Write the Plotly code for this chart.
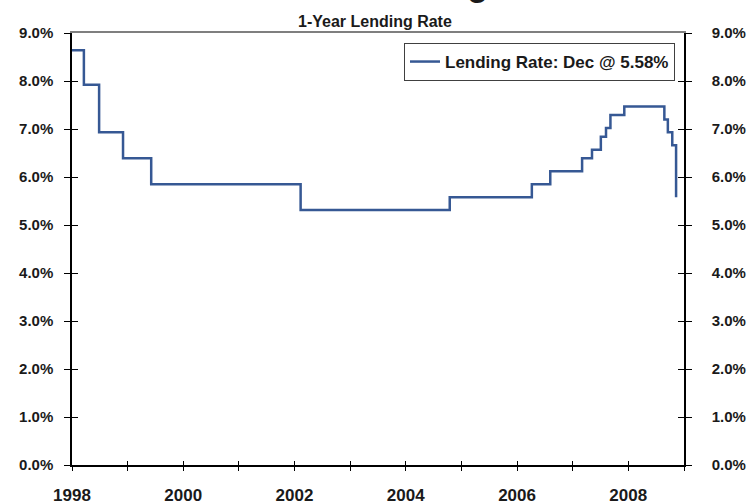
import plotly.graph_objects as go

# Step dates and 1-year lending rate (%)
change_dates = ["1998-01-01", "1998-03-20", "1998-06-28", "1998-12-02", "1999-06-05",
                "2002-02-10", "2004-10-16", "2006-04-08", "2006-08-07", "2007-03-04",
                "2007-05-08", "2007-07-05", "2007-08-08", "2007-09-06", "2007-12-06",
                "2008-08-25", "2008-09-17", "2008-10-16", "2008-11-10"]
rates = [8.64, 7.92, 6.93, 6.39, 5.85,
         5.31, 5.58, 5.85, 6.12, 6.39,
         6.57, 6.84, 7.02, 7.29, 7.47,
         7.20, 6.93, 6.66, 5.58]

year_ticks = [f"{y}-01-01" for y in range(1998, 2010)]
year_labels = [str(y) if y % 2 == 0 and y < 2009 else "" for y in range(1998, 2010)]
y_ticks = [0, 1, 2, 3, 4, 5, 6, 7, 8, 9]
y_labels = [f"{v:.1f}%" for v in y_ticks]

series_name = "Lending Rate: Dec @ 5.58%"
subtitle = "1-Year Lending Rate"
main_title = "China Lending"

FONT = "Liberation Sans"
TXT = "#1a1a1a"
LINE_BLUE = "#365894"
x_range = ["1998-01-01", "2009-01-01"]

W, H = 748, 504
ML, MR, MT, MB = 72, 64, 33, 39
plot_w = W - ML - MR
plot_h = H - MT - MB

fig = go.Figure()
fig.add_trace(go.Scatter(x=change_dates, y=rates, mode="lines", line_shape="hv",
                         line=dict(color=LINE_BLUE, width=2.5), name=series_name,
                         showlegend=True))
# invisible helper traces so overlay axes get drawn
for xa, ya in [("x2", "y2"), ("x3", "y3"), ("x2", "y4")]:
    fig.add_trace(go.Scatter(x=change_dates, y=rates, mode="lines", line=dict(width=0),
                             xaxis=xa, yaxis=ya, showlegend=False, hoverinfo="skip",
                             opacity=0))

tickfont = dict(family=FONT, size=15, color=TXT, weight="bold")

fig.update_layout(
    width=W, height=H,
    margin=dict(l=ML, r=MR, t=MT, b=MB, autoexpand=False),
    paper_bgcolor="white", plot_bgcolor="white",
    font=dict(family=FONT, color=TXT),
    xaxis=dict(type="date", range=x_range, tickvals=year_ticks, ticktext=year_labels,
               ticks="outside", ticklen=4, tickwidth=1, tickcolor="black",
               showline=True, linecolor="black", linewidth=1.5, showgrid=False,
               zeroline=False, tickfont=dict(family=FONT, size=17, color=TXT, weight="bold"),
               ticklabelstandoff=10, anchor="y", automargin=False),
    xaxis2=dict(type="date", range=x_range, overlaying="x", anchor="y", side="bottom",
                tickvals=year_ticks, ticks="inside", ticklen=4, tickwidth=1, tickcolor="black",
                showline=False, showgrid=False, zeroline=False, showticklabels=False,
                automargin=False),
    xaxis3=dict(type="date", range=x_range, overlaying="x", anchor="y", side="top",
                showline=True, linecolor="#7f7f7f", linewidth=1.5, ticks="",
                showgrid=False, zeroline=False, showticklabels=False, automargin=False),
    yaxis=dict(range=[0, 9], tickvals=y_ticks, ticktext=y_labels,
               ticks="outside", ticklen=6, tickwidth=1, tickcolor="black",
               showline=True, linecolor="black", linewidth=1.5, showgrid=False,
               zeroline=False, tickfont=tickfont, ticklabelstandoff=8, anchor="x",
               automargin=False),
    yaxis2=dict(range=[0, 9], overlaying="y", side="left", anchor="x",
                tickvals=y_ticks, ticks="inside", ticklen=6, tickwidth=1, tickcolor="black",
                showline=False, showgrid=False, zeroline=False, showticklabels=False,
                automargin=False),
    yaxis3=dict(range=[0, 9], overlaying="y", side="right", anchor="x",
                tickvals=y_ticks, ticktext=y_labels,
                ticks="outside", ticklen=6, tickwidth=1, tickcolor="black",
                showline=True, linecolor="black", linewidth=1.5, showgrid=False,
                zeroline=False, tickfont=tickfont, ticklabelstandoff=17, automargin=False),
    yaxis4=dict(range=[0, 9], overlaying="y", side="right", anchor="x",
                tickvals=y_ticks, ticks="inside", ticklen=6, tickwidth=1, tickcolor="black",
                showline=False, showgrid=False, zeroline=False, showticklabels=False,
                automargin=False),
    legend=dict(x=(675 - ML) / plot_w, y=1 - (43 - MT) / plot_h,
                xanchor="right", yanchor="top",
                bgcolor="white", bordercolor="#404040", borderwidth=1,
                font=dict(family=FONT, size=17, color=TXT, weight="bold"),
                itemwidth=30),
    showlegend=True,
)
fig.add_annotation(text=subtitle, xref="paper", yref="paper",
                   x=(375 - ML) / plot_w, y=1 + (MT - 21) / plot_h, yanchor="middle",
                   showarrow=False,
                   font=dict(family=FONT, size=16, color=TXT, weight="bold"))
fig.add_annotation(text=main_title, xref="paper", yref="paper",
                   x=(370 - ML) / plot_w, y=1 + (MT - 5) / plot_h,
                   yanchor="bottom", showarrow=False,
                   font=dict(family=FONT, size=34, color=TXT, weight="bold"))

fig.write_html("out.html", config={"displayModeBar": False},
               post_script="document.body.style.margin='0';document.body.style.overflow='hidden';")
